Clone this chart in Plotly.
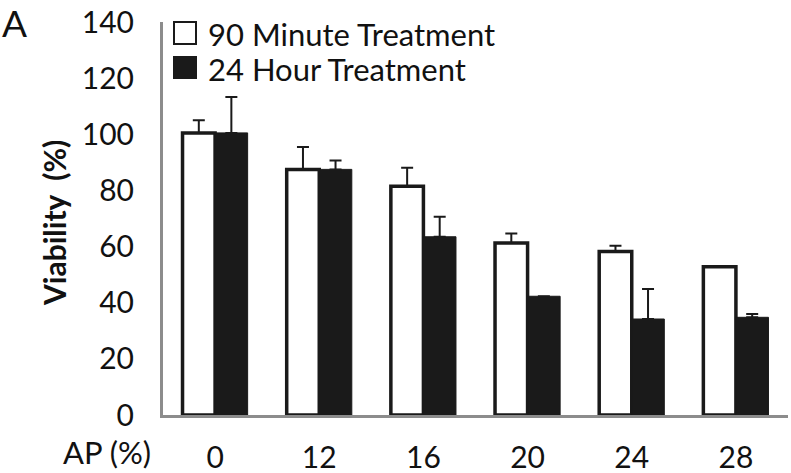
import plotly.graph_objects as go

categories = ["0", "12", "16", "20", "24", "28"]
min90_values = [100.5, 87.5, 81.5, 61.3, 58.2, 52.8]
min90_err = [4.5, 8.0, 6.6, 3.4, 2.1, 0.0]
hr24_values = [100.5, 87.5, 63.5, 42.3, 34.2, 34.8]
hr24_err = [12.8, 3.2, 7.1, 0.0, 10.7, 1.2]
series_names = ["90 Minute Treatment", "24 Hour Treatment"]
y_ticks = [0, 20, 40, 60, 80, 100, 120, 140]

W, H = 791, 473
L, R, T, B = 163, 3, 22, 58
pw, ph = W - L - R, H - T - B
FONT = "Lato, Liberation Sans, sans-serif"
DARK = "#1a1a1a"
GRAY = "#8c8c8c"

def px(x):
    return (x - L) / pw

def py(y):
    return (H - B - y) / ph

fig = go.Figure()
fig.add_trace(go.Bar(
    x=categories, y=min90_values, name=series_names[0],
    marker=dict(color="white", line=dict(color=DARK, width=3.5)),
    error_y=dict(type="data", symmetric=False, array=min90_err,
                 arrayminus=[0] * len(min90_err), color=DARK, thickness=2, width=6),
))
fig.add_trace(go.Bar(
    x=categories, y=hr24_values, name=series_names[1],
    marker=dict(color=DARK, line=dict(color=DARK, width=1)),
    error_y=dict(type="data", symmetric=False, array=hr24_err,
                 arrayminus=[0] * len(hr24_err), color=DARK, thickness=2, width=6),
))

shapes = [
    dict(type="rect", xref="paper", yref="paper", x0=px(174), x1=px(196), y0=py(44), y1=py(22),
         fillcolor="white", line=dict(color=DARK, width=2)),
    dict(type="rect", xref="paper", yref="paper", x0=px(174), x1=px(196), y0=py(78), y1=py(57),
         fillcolor=DARK, line=dict(color=DARK, width=2)),
]
annotations = [
    dict(text=series_names[0], xref="paper", yref="paper", x=px(206), y=py(34),
         xanchor="left", yanchor="middle", showarrow=False, font=dict(size=31, color="#111")),
    dict(text=series_names[1], xref="paper", yref="paper", x=px(206), y=py(69),
         xanchor="left", yanchor="middle", showarrow=False, font=dict(size=31, color="#111")),
    dict(text="A", xref="paper", yref="paper", x=px(0), y=py(22),
         xanchor="left", yanchor="middle", showarrow=False, font=dict(size=37, color="#111")),
    dict(text="AP (%)", xref="paper", yref="paper", x=px(153), y=py(452),
         xanchor="right", yanchor="middle", showarrow=False, font=dict(size=31, color="#111")),
    dict(text="<b>Viability  (%)</b>", xref="paper", yref="paper", x=px(54), y=py(223),
         xanchor="center", yanchor="middle", textangle=-90, showarrow=False,
         font=dict(size=30, color="#111")),
]

fig.update_layout(
    width=W, height=H,
    margin=dict(l=L, r=R, t=T, b=B, pad=0),
    paper_bgcolor="white", plot_bgcolor="white",
    barmode="group", bargap=0.375, bargroupgap=0,
    showlegend=False,
    font=dict(family=FONT, size=30, color="#111"),
    shapes=shapes, annotations=annotations,
    xaxis=dict(showline=True, linecolor=GRAY, linewidth=3, showgrid=False, automargin=False,
               ticks="", ticklabelstandoff=14, tickfont=dict(size=30)),
    yaxis=dict(range=[0, 140], tickvals=y_ticks, showline=True, linecolor=GRAY, automargin=False,
               linewidth=3, showgrid=False, zeroline=False, ticks="",
               ticklabelstandoff=20, tickfont=dict(size=30)),
)

fig.write_html("out.html", config={"displayModeBar": False},
               post_script="document.body.style.margin='0';document.body.style.overflow='hidden';")
